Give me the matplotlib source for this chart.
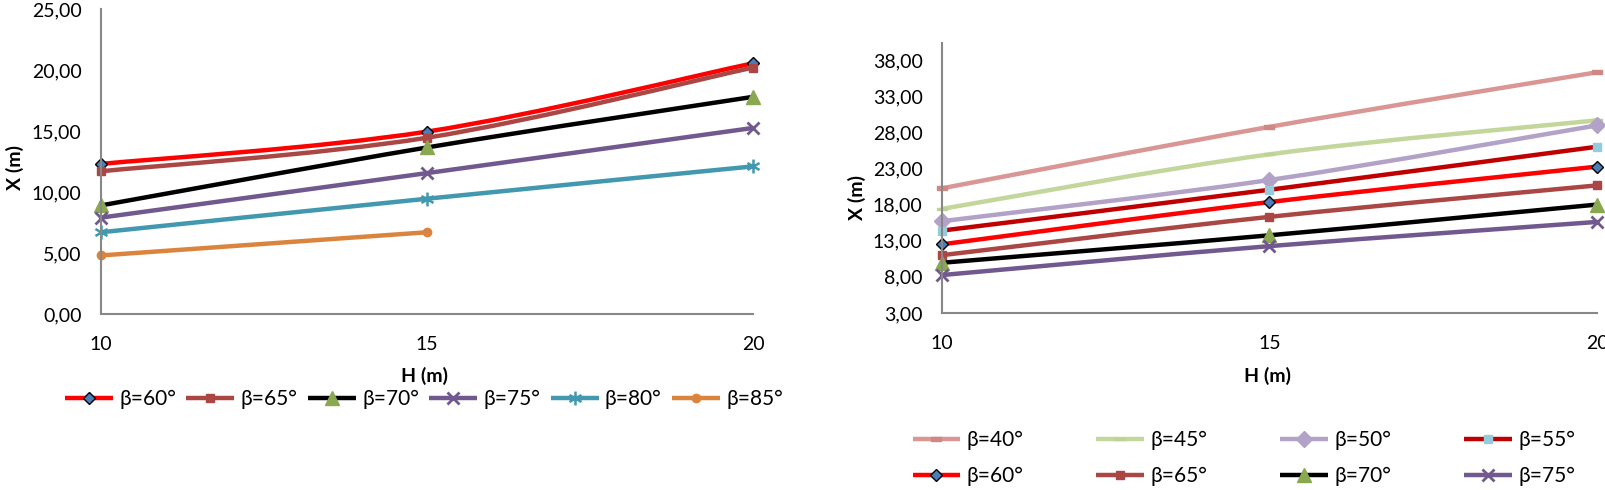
import matplotlib
matplotlib.use("Agg")
import matplotlib.pyplot as plt
from matplotlib.path import Path
from matplotlib.patches import PathPatch
from matplotlib.lines import Line2D
import numpy as np

plt.rcParams['font.family'] = ['Lato', 'DejaVu Sans']

# data
h = [10, 15, 20]

left_labels = ['β=60°', 'β=65°', 'β=70°', 'β=75°', 'β=80°', 'β=85°']
left_b60 = [12.3, 14.95, 20.55]
left_b65 = [11.7, 14.45, 20.2]
left_b70 = [8.9, 13.65, 17.8]
left_b75 = [7.9, 11.55, 15.25]
left_b80 = [6.7, 9.45, 12.1]
left_b85 = [4.8, 6.7]

right_labels = ['β=40°', 'β=45°', 'β=50°', 'β=55°', 'β=60°', 'β=65°', 'β=70°', 'β=75°']
right_b40 = [20.25, 28.75, 36.3]
right_b45 = [17.4, 24.95, 29.65]
right_b50 = [15.7, 21.4, 28.95]
right_b55 = [14.4, 20.05, 26.0]
right_b60 = [12.5, 18.35, 23.25]
right_b65 = [11.0, 16.3, 20.65]
right_b70 = [9.95, 13.75, 18.0]
right_b75 = [8.25, 12.25, 15.6]

left_ticks = [0, 5, 10, 15, 20, 25]
right_ticks = [3, 8, 13, 18, 23, 28, 33, 38]

# marker shapes
asterisk = Path([(0, -1), (0, 1), (-0.87, -0.5), (0.87, 0.5), (-0.87, 0.5), (0.87, -0.5)],
                [Path.MOVETO, Path.LINETO, Path.MOVETO, Path.LINETO, Path.MOVETO, Path.LINETO])
dash_small = [(-1, -0.45), (1, -0.45), (1, 0.45), (-1, 0.45), (-1, -0.45)]
dash_wide = [(-1.6, -0.45), (1.6, -0.45), (1.6, 0.45), (-1.6, 0.45), (-1.6, -0.45)]

mk_diamond = dict(marker='D', ms=6, mfc='#4a7ebb', mec='black', mew=1.0)
mk_square = dict(marker='s', ms=6, mfc='#aa4643', mec='#aa4643')
mk_tri = dict(marker='^', ms=10, mfc='#8aa84f', mec='#8aa84f')
mk_x = dict(marker='x', ms=9, mec='#71588f', mew=2)
mk_ast = dict(marker=asterisk, ms=10, mec='#4198af', mew=1.8, mfc='none')
mk_circ = dict(marker='o', ms=6, mfc='#db843d', mec='#db843d')

LW = 3.2
FS = 14


def smooth(ax, x, y, color, lw=LW):
    # bezier curve through the points, like a smoothed spreadsheet line
    pts = np.column_stack([x, y]).astype(float)
    n = len(pts)
    verts = [pts[0]]
    codes = [Path.MOVETO]
    for i in range(n - 1):
        p_prev = pts[i - 1] if i > 0 else pts[i]
        p_next2 = pts[i + 2] if i + 2 < n else pts[i + 1]
        c1 = pts[i] + (pts[i + 1] - p_prev) / 6
        c2 = pts[i + 1] - (p_next2 - pts[i]) / 6
        verts += [c1, c2, pts[i + 1]]
        codes += [Path.CURVE4] * 3
    ax.add_patch(PathPatch(Path(verts, codes), fill=False, edgecolor=color, lw=lw,
                           capstyle='round', joinstyle='round'))


def draw(ax, series, labels, colors, markers):
    handles = []
    for ys, lab, col, mk in zip(series, labels, colors, markers):
        xs = h[:len(ys)]
        smooth(ax, xs, ys, col)
        ax.plot(xs, ys, linestyle='none', **mk)
        handles.append(Line2D([], [], color=col, lw=LW, label=lab,
                              solid_capstyle='butt', **mk))
    return handles


def style(ax, ticks, ylim, xlab_pos, ylab_pos):
    ax.set_xlim(10, 20)
    ax.set_ylim(*ylim)
    ax.set_xticks(h)
    ax.set_xticklabels([str(v) for v in h])
    ax.set_yticks(ticks)
    ax.set_yticklabels([f'{v:.2f}'.replace('.', ',') for v in ticks])
    for s in ['top', 'right']:
        ax.spines[s].set_visible(False)
    for s in ['left', 'bottom']:
        ax.spines[s].set_color('#888888')
        ax.spines[s].set_linewidth(1.5)
    ax.tick_params(axis='both', length=0, labelsize=FS)
    ax.tick_params(axis='y', pad=14)
    ax.tick_params(axis='x', pad=16)
    ax.set_xlabel('H (m)', fontsize=FS, fontweight='bold', va='center')
    ax.set_ylabel('X (m)', fontsize=FS, fontweight='bold', va='center')
    ax.xaxis.set_label_coords(xlab_pos[0] / W, 1 - xlab_pos[1] / H, transform=fig.transFigure)
    ax.yaxis.set_label_coords(ylab_pos[0] / W, 1 - ylab_pos[1] / H, transform=fig.transFigure)
    for art in ax.patches + ax.lines:
        art.set_clip_on(False)


fig = plt.figure(figsize=(16.06, 4.90), dpi=100)
W, H = 1606, 490

# left chart
ax1 = fig.add_axes([101 / W, 1 - 314 / H, 652 / W, 305 / H])
h1 = draw(ax1,
          [left_b60, left_b65, left_b70, left_b75, left_b80, left_b85],
          left_labels,
          ['#ff0000', '#aa4643', '#000000', '#71588f', '#4198af', '#db843d'],
          [mk_diamond, mk_square, mk_tri, mk_x, mk_ast, mk_circ])
style(ax1, left_ticks, (0, 25), (425, 376), (15, 168))
fig.legend(handles=h1, ncol=6, loc='center', bbox_to_anchor=(424 / W, 1 - 399 / H),
           frameon=False, fontsize=15, handlelength=2.3, handletextpad=0.3,
           columnspacing=0.5)

# right chart
ax2 = fig.add_axes([942 / W, 1 - 313 / H, 655 / W, 270 / H])
mk_diamond_big = dict(marker='D', ms=8, mfc='#b3a2c7', mec='#b3a2c7')
mk_sq_blue = dict(marker='s', ms=6, mfc='#93cddd', mec='#93cddd')
mk_dash40 = dict(marker=dash_small, ms=7, mfc='#d08886', mec='#d08886')
mk_dash45 = dict(marker=dash_wide, ms=7, mfc='#bcd296', mec='#bcd296')
h2 = draw(ax2,
          [right_b40, right_b45, right_b50, right_b55, right_b60, right_b65, right_b70, right_b75],
          right_labels,
          ['#d99694', '#c3d69b', '#b3a2c7', '#c00000', '#ff0000', '#aa4643', '#000000', '#71588f'],
          [mk_dash40, mk_dash45, mk_diamond_big, mk_sq_blue, mk_diamond, mk_square, mk_tri, mk_x])
style(ax2, right_ticks, (3, 40.35), (1267, 376), (857, 197))
order = [0, 4, 1, 5, 2, 6, 3, 7]
fig.legend(handles=[h2[i] for i in order], ncol=4, loc='center',
           bbox_to_anchor=(1244 / W, 1 - 458 / H), frameon=False, fontsize=15,
           handlelength=2.3, handletextpad=0.3, columnspacing=3.5, labelspacing=0.75)

fig.savefig('out.png', dpi=100)
